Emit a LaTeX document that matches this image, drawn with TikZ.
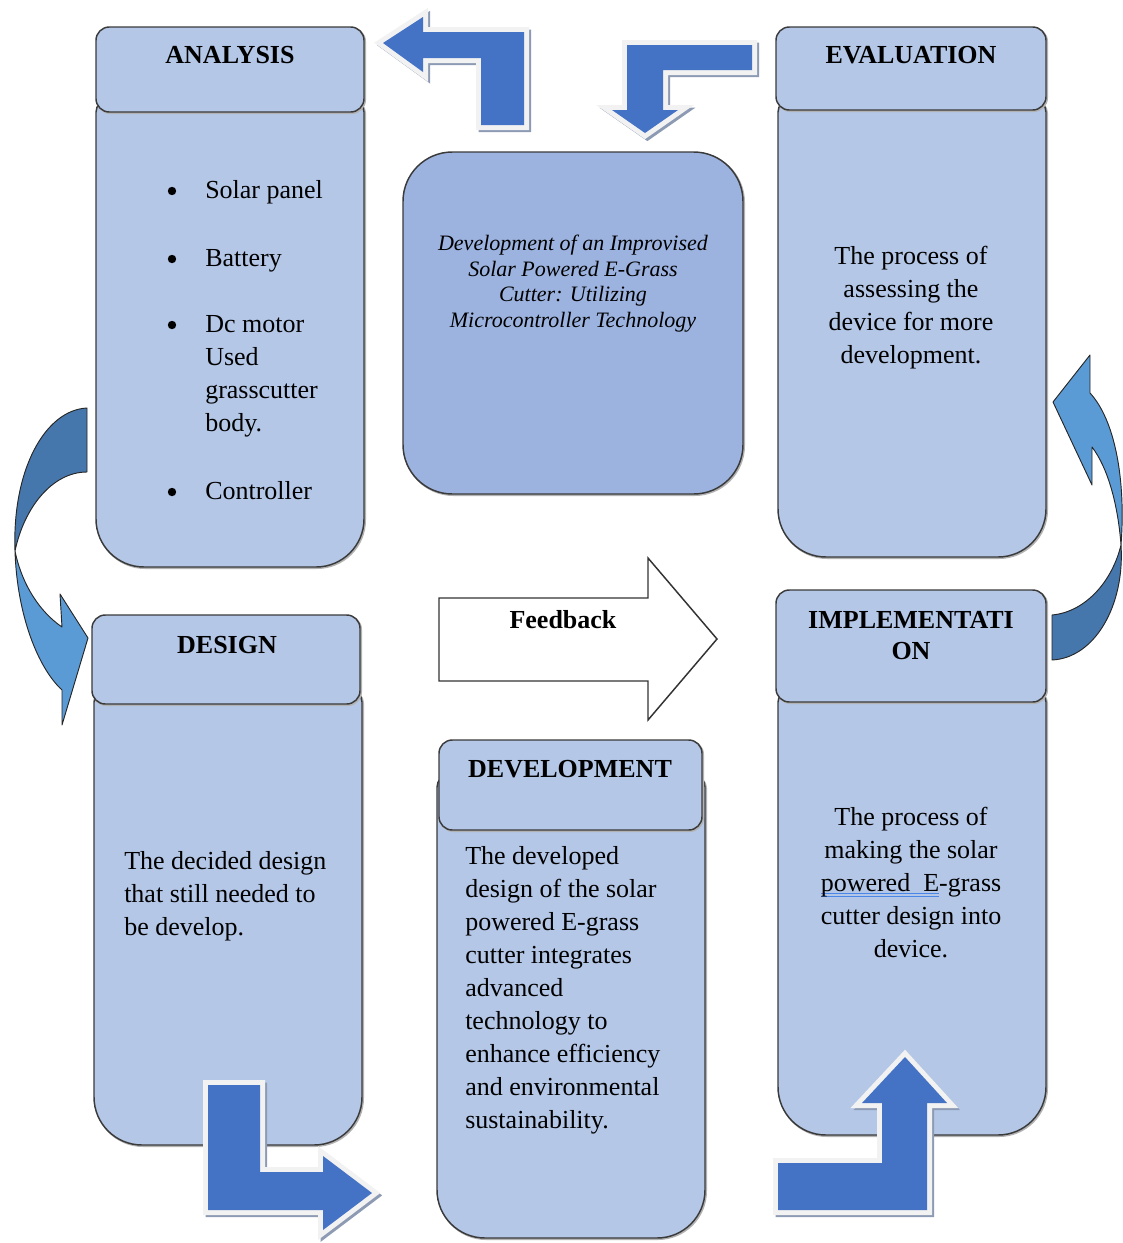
\documentclass[tikz,border=0pt]{standalone}
\usepackage{fontspec}
\setmainfont{Liberation Serif}
\definecolor{boxblue}{HTML}{B4C7E7}
\definecolor{centerblue}{HTML}{9CB3E0}
\definecolor{edgegray}{HTML}{3A3A3A}
\definecolor{arrowblue}{HTML}{4472C4}
\definecolor{arrowrim}{HTML}{F2F2F2}
\definecolor{arrowshadow}{HTML}{8C9AB3}
\definecolor{curvelight}{HTML}{5B9BD5}
\definecolor{curvedark}{HTML}{4677AC}
\definecolor{markblue}{HTML}{4A86E8}

\newcommand\bodyfont{\fontsize{19.5pt}{24.75pt}\selectfont}
\newcommand\hdrfont{\fontsize{19.5pt}{23.25pt}\selectfont\bfseries}
\newcommand\themefont{\fontsize{16.5pt}{19.1pt}\selectfont\itshape}

% double blue underline of a word-processor grammar mark
\newsavebox\gbox
\newcommand\gramline[1]{\sbox\gbox{#1}%
  \rlap{\color{markblue}\rule[-1.8pt]{\wd\gbox}{0.7pt}}%
  \rlap{\color{markblue}\rule[-4.0pt]{\wd\gbox}{0.7pt}}%
  \usebox\gbox}

% panel body: small radius on top, large radius at the bottom
\newcommand\panelbody[4]{%
  \draw[panel] (#1,{(#2+#4)/2}) [rounded corners=9pt] -- (#1,#2) -- (#3,#2)
    -- (#3,{(#2+#4)/2}) [rounded corners=36pt] -- (#3,#4) -- (#1,#4) -- cycle;}

\tikzset{
  softshadow/.style={preaction={draw=black!30, line width=1.4pt,
      transform canvas={shift={(0.8pt,-0.8pt)}}}},
  panel/.style={draw=edgegray, line width=1.1pt, fill=boxblue, softshadow},
  panelhead/.style={panel, rounded corners=10pt},
  blockarrow/.style={fill=arrowblue, line join=miter,
    preaction={fill=arrowshadow, draw=arrowshadow, line width=7pt,
      transform canvas={shift={(1.8pt,-1.8pt)}}},
    preaction={draw=arrowrim, line width=7.5pt}},
  curvedarrow/.style={draw=black!85, line width=0.7pt, line join=round},
  txt/.style={inner sep=0pt, font=\bodyfont},
  dot/.style={circle, fill=black, inner sep=0pt, minimum size=6.3pt},
  hdrtxt/.style={inner sep=0pt, font=\hdrfont, align=center},
}

\begin{document}
\begin{tikzpicture}[x=0.75pt,y=-0.75pt]
\useasboundingbox (0,0) rectangle (1123,1243);

% ---------- curved arrows ----------
% left: analysis -> design
\path[curvedarrow, fill=curvedark] (87,408)
  .. controls (45,410) and (12,470) .. (15,551)
  .. controls (24,508) and (52,472) .. (87,472) -- cycle;
\path[curvedarrow, fill=curvelight] (15,551)
  .. controls (17,615) and (38,668) .. (62,690)
  -- (62,725) -- (88,638) -- (60,594) -- (62,627)
  .. controls (40,612) and (22,585) .. (15,551) -- cycle;
% right: implementation -> evaluation
\path[curvedarrow, fill=curvedark] (1052,615)
  .. controls (1085,612) and (1112,582) .. (1121,545)
  .. controls (1125,605) and (1095,658) .. (1052,660) -- cycle;
\path[curvedarrow, fill=curvelight] (1121,545)
  .. controls (1126,480) and (1115,420) .. (1090,393)
  -- (1090,355) -- (1053,402) -- (1092,485) -- (1092,447)
  .. controls (1108,468) and (1118,505) .. (1121,545) -- cycle;

% ---------- block arrows ----------
\path[blockarrow] (383,43) -- (423,17) -- (423,32) -- (524,32) -- (524,125)
  -- (481,125) -- (481,58) -- (423,58) -- (423,72) -- cycle;
\path[blockarrow] (752,45) -- (752,70) -- (663,70) -- (663,110) -- (678,110)
  -- (645,133) -- (612,110) -- (627,110) -- (627,45) -- cycle;

% ---------- panels ----------
% analysis
\panelbody{96}{100}{364}{567}
\draw[panelhead] (96,27) rectangle (364,112);
% evaluation
\panelbody{778}{100}{1046}{557}
\draw[panelhead] (776,27) rectangle (1046,110);
% design
\panelbody{94}{690}{362}{1145}
\draw[panelhead] (92,615) rectangle (360,704);
% development
\panelbody{437}{775}{705}{1238}
\draw[panelhead] (439,740) rectangle (702,830);
% implementation
\panelbody{778}{690}{1046}{1135}
\draw[panelhead] (776,590) rectangle (1046,702);
% project theme
\draw[draw=edgegray, line width=1.1pt, fill=centerblue, rounded corners=37pt, softshadow]
  (403,152) rectangle (743,494);

% lower block arrows lie over the panels
\path[blockarrow] (208,1085) -- (260,1085) -- (260,1172) -- (323,1172) -- (323,1156)
  -- (372,1193) -- (323,1230) -- (323,1210) -- (208,1210) -- cycle;
\path[blockarrow] (778,1163) -- (882,1163) -- (882,1103) -- (862,1103) -- (905,1057)
  -- (947,1103) -- (927,1103) -- (927,1210) -- (778,1210) -- cycle;

% feedback arrow
\draw[draw=black!80, line width=1.1pt, fill=white, line join=miter]
  (439,598) -- (648,598) -- (648,558) -- (717,639) -- (648,720) -- (648,681)
  -- (439,681) -- cycle;
\node[txt, anchor=base, font=\bodyfont\bfseries] (fb) at (563,628) {Feedback};

% ---------- texts ----------
\node[hdrtxt, anchor=base] (anaT) at (230,63) {ANALYSIS};
\node[hdrtxt, anchor=base] (evaT) at (911,63) {EVALUATION};
\node[hdrtxt, anchor=base] (desT) at (227,653) {DESIGN};
\node[hdrtxt, anchor=base] (devT) at (570,777) {DEVELOPMENT};
\node[hdrtxt, anchor=north] (impT) at (911,611) {IMPLEMENTATI\\ON};

\node[dot] (bu1) at (172,191) {};
\node[dot] (bu2) at (172,259) {};
\node[dot] (bu3) at (172,325) {};
\node[dot] (bu4) at (172,492) {};
\node[txt, anchor=base west] (it1) at (205,198) {Solar panel};
\node[txt, anchor=base west] (it2) at (205,266) {Battery};
\node[txt, anchor=north west, align=left] (it3) at (205,315) {Dc motor\\Used\\grasscutter\\body.};
\node[txt, anchor=base west] (it4) at (205,499) {Controller};

\node[inner sep=0pt, font=\themefont, align=center, anchor=north] (theme) at (573,235)
  {Development of an Improvised\\Solar Powered E-Grass\\Cutter: Utilizing\\Microcontroller Technology};

\node[txt, anchor=north, align=center] (evaB) at (911,246)
  {The process of\\assessing the\\device for more\\development.};
\node[txt, anchor=north west, align=left] (desB) at (124,851)
  {The decided design\\that still needed to\\be develop.};
\node[txt, anchor=north west, align=left] (devB) at (465,846)
  {The developed\\design of the solar\\powered E-grass\\cutter integrates\\advanced\\technology to\\enhance efficiency\\and environmental\\sustainability.};
\node[txt, anchor=north, align=center] (impB) at (911,807)
  {The process of\\making the solar\\\gramline{powered\ \ E}-grass\\cutter design into\\device.};
\end{tikzpicture}
\end{document}
